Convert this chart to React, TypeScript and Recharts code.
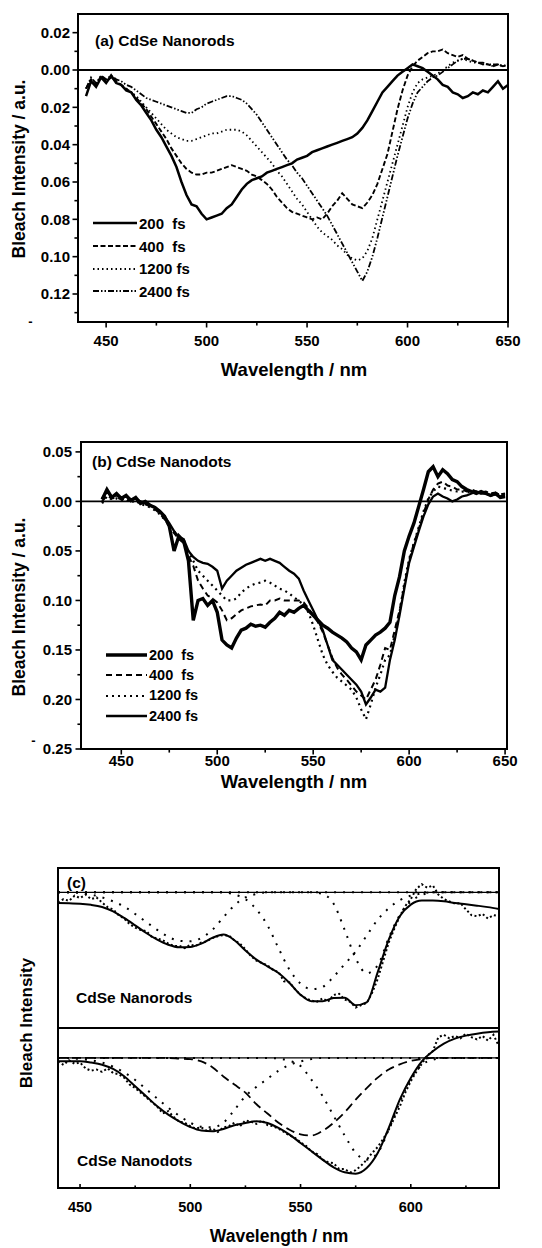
import React from 'react';
import { LineChart, Line, XAxis, YAxis, ReferenceLine, ReferenceArea } from 'recharts';

const FONT = '"Liberation Sans", Arial, Helvetica, sans-serif';

// wavelength grids (nm)
const WL = [
  440, 442.5, 445, 447.5, 450, 452.5, 455, 457.5, 460, 462.5,
  465, 467.5, 470, 472.5, 475, 477.5, 480, 482.5, 485, 487.5,
  490, 492.5, 495, 497.5, 500, 502.5, 505, 507.5, 510, 512.5,
  515, 517.5, 520, 522.5, 525, 527.5, 530, 532.5, 535, 537.5,
  540, 542.5, 545, 547.5, 550, 552.5, 555, 557.5, 560, 562.5,
  565, 567.5, 570, 572.5, 575, 577.5, 580, 582.5, 585, 587.5,
  590, 592.5, 595, 597.5, 600, 602.5, 605, 607.5, 610, 612.5,
  615, 617.5, 620, 622.5, 625, 627.5, 630, 632.5, 635, 637.5,
  640, 642.5, 645, 647.5, 650,
];
const WL_C = WL.slice(0, 81);
const WL_C5 = [
  440, 445, 450, 455, 460, 465, 470, 475, 480, 485,
  490, 495, 500, 505, 510, 515, 520, 525, 530, 535,
  540, 545, 550, 555, 560, 565, 570, 575, 580, 585,
  590, 595, 600, 605, 610, 615, 620, 625, 630, 635,
  640,
];

// (a) CdSe nanorods, bleach in units of 0.001 (below zero = bleach)
const A_200 = [
  -14, -6, -9, -4, -7, -3, -7, -8, -11, -12,
  -16, -19, -23, -27, -32, -36, -41, -46, -52, -60,
  -67, -72, -73, -77, -80, -79, -78, -77, -74, -72,
  -68, -64, -61, -59, -58, -57, -55, -54, -53, -52,
  -51, -50, -48, -47, -46, -44, -43, -42, -41, -40,
  -39, -38, -37, -36, -34, -31, -27, -22, -17, -12,
  -9, -6, -3, -1, 1, 3, 2, 1, -1, -3,
  -5, -8, -9, -12, -13, -15, -14, -12, -13, -11,
  -12, -9, -6, -10, -8,
];
const A_400 = [
  -10, -5, -8, -3, -6, -4, -6, -8, -10, -12,
  -15, -18, -21, -25, -29, -33, -37, -42, -46, -50,
  -53, -55, -56, -56, -55, -55, -54, -53, -52, -51,
  -52, -53, -54, -56, -57, -59, -61, -64, -68, -71,
  -74, -76, -77, -78, -79, -80, -79, -80, -77, -73,
  -70, -66, -69, -72, -73, -74, -71, -67, -61, -53,
  -45, -33, -21, -11, -3, 2, 5, 7, 9, 10,
  10, 11, 9, 8, 7, 8, 6, 5, 4, 3,
  3, 2, 3, 2, 3,
];
const A_1200 = [
  -10, -5, -8, -4, -6, -4, -6, -8, -10, -12,
  -14, -17, -20, -23, -26, -29, -32, -34, -36, -37,
  -38, -38, -37, -36, -35, -34, -34, -33, -32, -32,
  -32, -33, -35, -38, -41, -44, -47, -50, -54, -57,
  -61, -65, -69, -72, -76, -80, -84, -87, -89, -91,
  -94, -96, -99, -101, -102, -101, -97, -90, -80, -70,
  -60, -50, -40, -30, -20, -12, -7, -5, -4, -3,
  -2, 0, 2, 4, 5, 6, 5, 4, 4, 3,
  3, 2, 3, 2, 3,
];
const A_2400 = [
  -10, -4, -7, -3, -5, -3, -5, -6, -8, -9,
  -11, -13, -15, -16, -17, -18, -19, -20, -21, -22,
  -23, -23, -21, -20, -18, -17, -16, -15, -14, -14,
  -15, -16, -18, -21, -24, -28, -32, -36, -40, -44,
  -48, -51, -55, -58, -62, -66, -70, -74, -78, -83,
  -88, -93, -98, -103, -108, -113, -108, -100, -90, -79,
  -68, -57, -46, -36, -26, -18, -12, -9, -6, -4,
  -3, -1, 1, 3, 5, 6, 6, 5, 4, 4,
  3, 3, 3, 2, 3,
];

// (b) CdSe nanodots
const B_200 = [
  2, 12, 4, 8, 3, 6, 1, 4, -2, 0,
  -4, -6, -10, -15, -25, -50, -35, -40, -60, -120,
  -100, -98, -105, -100, -112, -140, -145, -148, -138, -130,
  -128, -124, -126, -125, -127, -122, -118, -112, -115, -110,
  -112, -108, -105, -110, -115, -120, -125, -128, -132, -135,
  -138, -142, -148, -152, -160, -145, -140, -135, -132, -128,
  -122, -95, -76, -50, -35, -22, -5, 12, 30, 35,
  25, 32, 28, 22, 20, 15, 12, 10, 8, 10,
  8, 6, 8, 4, 5,
];
const B_400 = [
  0, 6, 3, 4, 2, 3, 0, 2, -2, -3,
  -5, -8, -12, -18, -25, -32, -38, -42, -55, -65,
  -80, -88, -95, -98, -102, -110, -120, -118, -114, -110,
  -108, -106, -105, -104, -105, -100, -100, -98, -100, -100,
  -100, -100, -102, -108, -115, -122, -132, -145, -158, -168,
  -175, -180, -186, -192, -196, -200, -190, -180, -165, -148,
  -150, -130, -110, -85, -60, -42, -28, -12, 2, 12,
  18, 20, 16, 15, 12, 12, 10, 12, 10, 9,
  10, 8, 9, 7, 8,
];
const B_1200 = [
  -2, 5, 2, 3, 1, 2, -1, 1, -3, -4,
  -6, -9, -13, -18, -24, -30, -36, -40, -50, -60,
  -70, -75, -80, -85, -90, -95, -100, -100, -98, -92,
  -88, -85, -83, -82, -80, -82, -85, -88, -90, -93,
  -97, -100, -105, -112, -125, -140, -155, -165, -172, -178,
  -182, -186, -190, -198, -210, -220, -205, -188, -175, -160,
  -155, -135, -112, -82, -58, -42, -26, -10, 3, 10,
  15, 14, 12, 11, 10, 10, 9, 10, 9, 8,
  9, 8, 8, 7, 7,
];
const B_2400 = [
  3, 10, 5, 6, 4, 5, 2, 3, 0, -2,
  -4, -6, -10, -15, -22, -30, -36, -38, -50, -56,
  -60, -62, -63, -66, -70, -88, -80, -75, -70, -67,
  -64, -62, -60, -58, -60, -58, -60, -62, -66, -70,
  -73, -78, -90, -100, -110, -120, -130, -145, -160, -165,
  -170, -175, -180, -185, -192, -205, -198, -190, -192, -188,
  -160, -140, -115, -88, -62, -46, -30, -15, -3, 5,
  8, 5, 3, 0, 2, 5, 6, 8, 10, 8,
  8, 6, 7, 5, 6,
];

// (c) normalised spectra (x1000) with fit and Gaussian components
const CT_DATA = [
  -90, -60, -75, -30, -50, -20, -60, -45, -90, -130,
  -150, -200, -230, -280, -310, -330, -340, -390, -405, -420,
  -450, -470, -470, -490, -460, -470, -440, -430, -400, -385,
  -375, -380, -420, -450, -500, -560, -600, -620, -640, -680,
  -700, -780, -790, -850, -900, -930, -950, -960, -930, -960,
  -900, -890, -940, -960, -1010, -990, -970, -880, -760, -600,
  -440, -320, -210, -120, -60, 30, 70, 40, 60, -20,
  -60, -80, -100, -95, -150, -200, -210, -190, -230, -200,
  -210,
];
const CT_FIT = [
  -94, -97, -100, -110, -129, -167, -225, -290, -357, -415,
  -460, -482, -480, -450, -400, -371, -420, -510, -590, -650,
  -708, -795, -898, -956, -956, -927, -925, -990, -965, -700,
  -415, -210, -108, -73, -73, -79, -94, -105, -117, -130,
  -146,
];
const CT_G1 = [
  0, 0, -5, -20, -45, -80, -125, -190, -260, -330,
  -390, -425, -430, -400, -330, -220, -115, -45, -15, 0,
  0, 0, 0, 0, 0, 0, 0, 0, 0, 0,
  0, 0, 0, 0, 0, 0, 0, 0, 0, 0,
  0,
];
const CT_G2 = [
  0, 0, 0, 0, 0, 0, 0, 0, 0, 0,
  0, 0, 0, 0, 0, 0, -20, -60, -150, -290,
  -490, -680, -800, -850, -830, -740, -630, -520, -380, -240,
  -140, -70, -30, -10, 0, 0, 0, 0, 0, 0,
  0,
];
const CT_G3 = [
  0, 0, 0, 0, 0, 0, 0, 0, 0, 0,
  0, 0, 0, 0, 0, 0, 0, 0, 0, 0,
  0, 0, 0, 0, -15, -100, -330, -580, -710, -640,
  -400, -200, -80, -25, 0, 0, 0, 0, 0, 0,
  0,
];

const CB_DATA = [
  -30, -60, -20, -50, -40, -90, -110, -100, -120, -90,
  -130, -140, -170, -230, -260, -300, -340, -380, -420, -480,
  -460, -510, -550, -560, -590, -610, -600, -630, -610, -640,
  -600, -590, -560, -590, -540, -550, -570, -540, -580, -590,
  -610, -640, -670, -690, -730, -760, -810, -830, -880, -900,
  -910, -960, -960, -990, -970, -930, -880, -820, -770, -700,
  -620, -520, -420, -300, -200, -120, -50, 20, 60, 180,
  200, 170, 190, 170, 210, 180, 160, 190, 150, 200,
  100,
];
const CB_FIT = [
  -29, -29, -29, -40, -58, -95, -158, -245, -331, -418,
  -490, -548, -597, -628, -634, -614, -582, -562, -548, -562,
  -605, -663, -735, -807, -879, -945, -988, -1000, -951, -821,
  -605, -360, -173, -29, 58, 124, 167, 193, 210, 222,
  228,
];
const CB_G1 = [
  0, 0, -10, -20, -40, -75, -125, -190, -270, -350,
  -430, -500, -560, -595, -600, -560, -450, -330, -250, -180,
  -110, -60, -30, -10, 0, 0, 0, 0, 0, 0,
  0, 0, 0, 0, 0, 0, 0, 0, 0, 0,
  0,
];
const CB_G2 = [
  0, 0, 0, 0, 0, 0, 0, 0, 0, 0,
  0, -5, -10, -30, -80, -160, -230, -300, -400, -480,
  -560, -620, -660, -670, -630, -560, -470, -360, -260, -170,
  -100, -55, -25, -10, 0, 0, 0, 0, 0, 0,
  0,
];
const CB_G3 = [
  0, 0, 0, 0, 0, 0, 0, 0, 0, 0,
  0, 0, 0, 0, 0, 0, 0, 0, 0, 0,
  -5, -25, -70, -190, -330, -500, -670, -820, -880, -820,
  -620, -380, -180, -60, -15, 0, 0, 0, 0, 0,
  0,
];

const X_TICKS = [450, 475, 500, 525, 550, 575, 600, 625, 650];
const X_MAJOR = [450, 500, 550, 600, 650];
const C_X_TICKS = [450, 475, 500, 525, 550, 575, 600, 625];
const C_X_MAJOR = [450, 500, 550, 600];
const A_Y_TICKS = [20, 10, 0, -10, -20, -30, -40, -50, -60, -70, -80, -90, -100, -110, -120, -130];
const A_Y_MAJOR = [20, 0, -20, -40, -60, -80, -100, -120];
const B_Y_TICKS = [50, 25, 0, -25, -50, -75, -100, -125, -150, -175, -200, -225, -250];
const B_Y_MAJOR = [50, 0, -50, -100, -150, -200, -250];

const SER_A = [
  { key: 's200', name: '200  fs', w: 2.5, dash: undefined },
  { key: 's400', name: '400  fs', w: 1.9, dash: '5 2.5' },
  { key: 's1200', name: '1200 fs', w: 1.8, dash: '1.5 3' },
  { key: 's2400', name: '2400 fs', w: 1.8, dash: '6 2 1.5 2 1.5 2' },
];
const SER_B = [
  { key: 's200', name: '200  fs', w: 3.4, dash: undefined },
  { key: 's400', name: '400  fs', w: 2, dash: '6 4' },
  { key: 's1200', name: '1200 fs', w: 2.2, dash: '2 4' },
  { key: 's2400', name: '2400 fs', w: 2.3, dash: undefined },
];

const rowsA = WL.map((wl, i) => ({ wl, s200: A_200[i], s400: A_400[i], s1200: A_1200[i], s2400: A_2400[i] }));
const rowsB = WL.map((wl, i) => ({ wl, s200: B_200[i], s400: B_400[i], s1200: B_1200[i], s2400: B_2400[i] }));
const toRows = (xs: number[], ys: number[]) => xs.map((wl, i) => ({ wl, v: ys[i] }));

const fmt = (v: number) => (Math.abs(v) / 1000).toFixed(2);

const xTick = (majors: number[], axisY: number, len: number, labelY: number, size: number) => (p: any) => {
  const v = p.payload.value;
  const major = majors.includes(v);
  const l = major ? len : len * 0.65;
  return (
    <g>
      <line x1={p.x} x2={p.x} y1={axisY} y2={axisY + l} stroke="#000" strokeWidth={1.6} />
      {major && (
        <text x={p.x} y={labelY} textAnchor="middle" fontFamily={FONT} fontWeight="bold" fontSize={size} fill="#000">
          {v}
        </text>
      )}
    </g>
  );
};

const yTick = (majors: number[], axisX: number, len: number, labelX: number) => (p: any) => {
  const v = p.payload.value;
  const major = majors.includes(v);
  const l = major ? len : len * 0.65;
  return (
    <g>
      <line x1={axisX} x2={axisX - l} y1={p.y} y2={p.y} stroke="#000" strokeWidth={1.6} />
      {major && (
        <text x={labelX} y={p.y} dy={5.3} textAnchor="end" fontFamily={FONT} fontWeight="bold" fontSize={15} fill="#000">
          {fmt(v)}
        </text>
      )}
    </g>
  );
};

const T = ({ x, y, size = 15.5, rot = false, left = false, children }: any) => (
  <div
    style={{
      position: 'absolute',
      left: x,
      top: y,
      transform: `translate(${left ? '0' : '-50%'}, -50%)${rot ? ' rotate(-90deg)' : ''}`,
      fontSize: size,
      fontWeight: 'bold',
      lineHeight: 1,
      whiteSpace: 'pre',
      color: '#000',
    }}
  >
    {children}
  </div>
);

const LegendBox = ({ left, top, rowH, lineW, size, items }: any) => (
  <div style={{ position: 'absolute', left, top }}>
    {items.map((it: any) => (
      <div key={it.key} style={{ display: 'flex', alignItems: 'center', height: rowH }}>
        <svg width={lineW} height={8}>
          <line x1={0} x2={lineW} y1={4} y2={4} stroke="#000" strokeWidth={Math.max(it.w, 1.8)} strokeDasharray={it.dash} />
        </svg>
        <span style={{ marginLeft: 2, fontSize: size, fontWeight: 'bold', whiteSpace: 'pre', lineHeight: 1 }}>{it.name}</span>
      </div>
    ))}
  </div>
);

const App = () => {
  return (
    <div style={{ position: 'absolute', left: 0, top: 0, width: 542, height: 1248, background: '#fff', fontFamily: FONT }}>
      {/* (a) */}
      <div style={{ position: 'absolute', left: 0, top: 0 }}>
        <LineChart width={542} height={372} data={rowsA} margin={{ top: 14, right: 34, bottom: 0, left: 0 }}>
          <XAxis dataKey="wl" type="number" domain={[436, 650]} allowDataOverflow ticks={X_TICKS} interval={0}
            height={50} axisLine={false} tickLine={false} tick={xTick(X_MAJOR, 322, 5.5, 346, 15)} />
          <YAxis type="number" domain={[-135, 30]} allowDataOverflow ticks={A_Y_TICKS} interval={0}
            width={78} axisLine={false} tickLine={false} tick={yTick(A_Y_MAJOR, 78, 5.5, 70)} />
          <ReferenceLine y={0} stroke="#000" strokeWidth={1.8} />
          {SER_A.map((s) => (
            <Line key={s.key} dataKey={s.key} type="linear" stroke="#000" strokeWidth={s.w} strokeDasharray={s.dash}
              dot={false} activeDot={false} isAnimationActive={false} />
          ))}
          <ReferenceArea x1={436} x2={650} y1={-135} y2={30} fill="none" fillOpacity={0} stroke="#000" strokeWidth={2} />
        </LineChart>
      </div>
      <T x={95} y={41} left>(a) CdSe Nanorods</T>
      <T x={20} y={169} size={17.5} rot>Bleach Intensity / a.u.</T>
      <T x={294} y={370} size={18.5}>Wavelength / nm</T>
      <T x={30.5} y={321} size={13}>-</T>
      <LegendBox left={93} top={212} rowH={22.7} lineW={44} size={15} items={SER_A} />

      {/* (b) */}
      <div style={{ position: 'absolute', left: 0, top: 400 }}>
        <LineChart width={542} height={380} data={rowsB} margin={{ top: 42, right: 35, bottom: 0, left: 0 }}>
          <XAxis dataKey="wl" type="number" domain={[429, 651]} allowDataOverflow ticks={X_TICKS} interval={0}
            height={31} axisLine={false} tickLine={false} tick={xTick(X_MAJOR, 349, 5.5, 366, 15)} />
          <YAxis type="number" domain={[-250, 60]} allowDataOverflow ticks={B_Y_TICKS} interval={0}
            width={81} axisLine={false} tickLine={false} tick={yTick(B_Y_MAJOR, 81, 5.5, 72)} />
          <ReferenceLine y={0} stroke="#000" strokeWidth={1.6} />
          {SER_B.map((s) => (
            <Line key={s.key} dataKey={s.key} type="linear" stroke="#000" strokeWidth={s.w} strokeDasharray={s.dash}
              dot={false} activeDot={false} isAnimationActive={false} />
          ))}
          <ReferenceArea x1={429} x2={651} y1={-250} y2={60} fill="none" fillOpacity={0} stroke="#000" strokeWidth={2} />
        </LineChart>
      </div>
      <T x={92} y={462} left>(b) CdSe Nanodots</T>
      <T x={20} y={607} size={17.5} rot>Bleach Intensity / a.u.</T>
      <T x={294} y={782} size={18.5}>Wavelength / nm</T>
      <T x={33.5} y={740} size={13}>-</T>
      <LegendBox left={106} top={645} rowH={20.3} lineW={41} size={14.5} items={SER_B} />

      {/* (c) top: nanorods */}
      <div style={{ position: 'absolute', left: 0, top: 860 }}>
        <LineChart width={542} height={168} margin={{ top: 8, right: 43, bottom: 0, left: 58 }}>
          <XAxis dataKey="wl" type="number" domain={[440, 640]} allowDataOverflow hide />
          <YAxis type="number" domain={[-1190, 213]} allowDataOverflow hide />
          <ReferenceLine y={0} stroke="#000" strokeWidth={1.2} />
          <Line data={toRows(WL_C, CT_DATA)} dataKey="v" type="linear" stroke="#000" strokeWidth={2} strokeDasharray="2 2.5"
            dot={false} activeDot={false} isAnimationActive={false} />
          <Line data={toRows(WL_C5, CT_G1)} dataKey="v" type="monotone" stroke="#000" strokeWidth={2} strokeDasharray="2 7"
            dot={false} activeDot={false} isAnimationActive={false} />
          <Line data={toRows(WL_C5, CT_G2)} dataKey="v" type="monotone" stroke="#000" strokeWidth={2} strokeDasharray="2 7"
            dot={false} activeDot={false} isAnimationActive={false} />
          <Line data={toRows(WL_C5, CT_G3)} dataKey="v" type="monotone" stroke="#000" strokeWidth={2} strokeDasharray="2 7"
            dot={false} activeDot={false} isAnimationActive={false} />
          <Line data={toRows(WL_C5, CT_FIT)} dataKey="v" type="monotone" stroke="#000" strokeWidth={2}
            dot={false} activeDot={false} isAnimationActive={false} />
          <ReferenceArea x1={440} x2={640} y1={-1190} y2={213} fill="none" fillOpacity={0} stroke="#000" strokeWidth={2} />
        </LineChart>
      </div>

      {/* (c) bottom: nanodots */}
      <div style={{ position: 'absolute', left: 0, top: 1028 }}>
        <LineChart width={542} height={192} margin={{ top: 0, right: 43, bottom: 0, left: 58 }}>
          <XAxis dataKey="wl" type="number" domain={[440, 640]} allowDataOverflow ticks={C_X_TICKS} interval={0}
            height={32} axisLine={false} tickLine={false} tick={xTick(C_X_MAJOR, 160, -4, 184, 14.5)} />
          <YAxis type="number" domain={[-1124, 259]} allowDataOverflow hide />
          <ReferenceLine y={0} stroke="#000" strokeWidth={1.2} />
          <Line data={toRows(WL_C, CB_DATA)} dataKey="v" type="linear" stroke="#000" strokeWidth={2} strokeDasharray="2 2.5"
            dot={false} activeDot={false} isAnimationActive={false} />
          <Line data={toRows(WL_C5, CB_G1)} dataKey="v" type="monotone" stroke="#000" strokeWidth={2} strokeDasharray="2 7"
            dot={false} activeDot={false} isAnimationActive={false} />
          <Line data={toRows(WL_C5, CB_G2)} dataKey="v" type="monotone" stroke="#000" strokeWidth={1.8} strokeDasharray="9 5"
            dot={false} activeDot={false} isAnimationActive={false} />
          <Line data={toRows(WL_C5, CB_G3)} dataKey="v" type="monotone" stroke="#000" strokeWidth={2} strokeDasharray="2 7"
            dot={false} activeDot={false} isAnimationActive={false} />
          <Line data={toRows(WL_C5, CB_FIT)} dataKey="v" type="monotone" stroke="#000" strokeWidth={2}
            dot={false} activeDot={false} isAnimationActive={false} />
          <ReferenceArea x1={440} x2={640} y1={-1124} y2={259} fill="none" fillOpacity={0} stroke="#000" strokeWidth={2} />
        </LineChart>
      </div>
      <T x={67} y={883} left>(c)</T>
      <T x={76} y={998} left>CdSe Nanorods</T>
      <T x={77} y={1161} left>CdSe Nanodots</T>
      <T x={25.5} y={1023} size={17} rot>Bleach Intensity</T>
      <T x={279} y={1237} size={17.5}>Wavelength / nm</T>
    </div>
  );
};

export default App;
